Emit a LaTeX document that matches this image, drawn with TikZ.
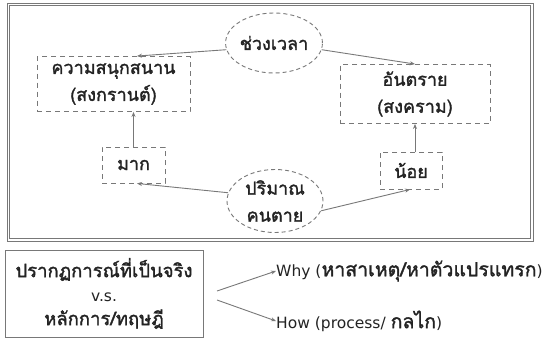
\documentclass[tikz,border=0pt]{standalone}
\usepackage{fontspec}
\setmainfont[Script=Thai,FakeBold=1.6]{Loma}
\newfontfamily\latinf{DejaVu Sans}
\newcommand\upf{\fontsize{18}{27}\selectfont}
\newcommand\lowf{\fontsize{18.5}{24}\selectfont}
\newcommand\arf{\fontsize{19.5}{24}\selectfont}
\newcommand\latf{\latinf\fontsize{15.5}{24}\selectfont}
\usetikzlibrary{shapes.geometric,arrows.meta}
\definecolor{lgray}{RGB}{120,120,120}
\definecolor{tgray}{RGB}{35,35,35}
\tikzset{
  txt/.style={text=tgray,align=center,inner sep=0pt},
  dbox/.style={txt,font=\upf,draw=lgray,line width=0.9pt,dash pattern=on 5pt off 4pt},
  dell/.style={txt,font=\upf,draw=lgray,ellipse,line width=0.9pt,dash pattern=on 4pt off 3pt},
  arr/.style={draw=lgray,line width=0.9pt,-{Stealth[length=5pt,width=4pt]}}}
\begin{document}
\begin{tikzpicture}[x=1pt,y=-1pt]
\useasboundingbox (0,0) rectangle (548,340);
\fill[white] (0,0) rectangle (548,340);
\draw[lgray,line width=0.8pt] (7,3) rectangle (533,241);
\draw[lgray,line width=0.8pt] (9.5,5.5) rectangle (530.5,238.5);
% upper nodes
\node[dell,minimum width=92pt,minimum height=60pt] (time) at (274,43) {ช่วงเวลา};
\node[dbox,minimum width=153pt,minimum height=55pt] (fun) at (113.5,84) {ความสนุกสนาน\\(สงกรานต์)};
\node[dbox,minimum width=150pt,minimum height=59pt] (danger) at (415,94) {อันตราย\\(สงคราม)};
\node[dbox,minimum width=63pt,minimum height=36pt] (much) at (133.5,165) {มาก};
\node[dbox,minimum width=62pt,minimum height=37pt] (few) at (411,170.5) {น้อย};
\node[dell,minimum width=96pt,minimum height=63pt] (dead) at (275,201) {ปริมาณ\\คนตาย};
\draw[arr] (time.188) -- (fun.north -| 137,0);
\draw[arr] (time.-8) -- (danger.north -| 415,0);
\draw[arr] (much.north) -- (fun.south -| much.north);
\draw[arr] (few.north -| 415,0) -- (danger.south -| 415,0);
\draw[arr] (dead.170) -- (much.south -| 137,0);
\draw[arr] (dead.-12) -- (few.south -| 410,0);
% lower part
\node[txt,font=\lowf,draw=lgray,line width=0.8pt,minimum width=198pt,minimum height=87pt] (box) at (104,293.5) {ปรากฏการณ์ที่เป็นจริง\\{\latf v.s.}\\หลักการ/ทฤษฎี};
\node[txt,anchor=west,font=\arf] (why) at (276,271) {{\latf Why (}หาสาเหตุ/หาตัวแปรแทรก{\latf )}};
\node[txt,anchor=west,font=\arf] (how) at (276,321) {{\latf How (process/ }กลไก{\latf )}};
\coordinate (s1) at (217,291);
\coordinate (s2) at (217,300);
\draw[arr] (s1) -- (why.west);
\draw[arr] (s2) -- (how.west);
\end{tikzpicture}
\end{document}
